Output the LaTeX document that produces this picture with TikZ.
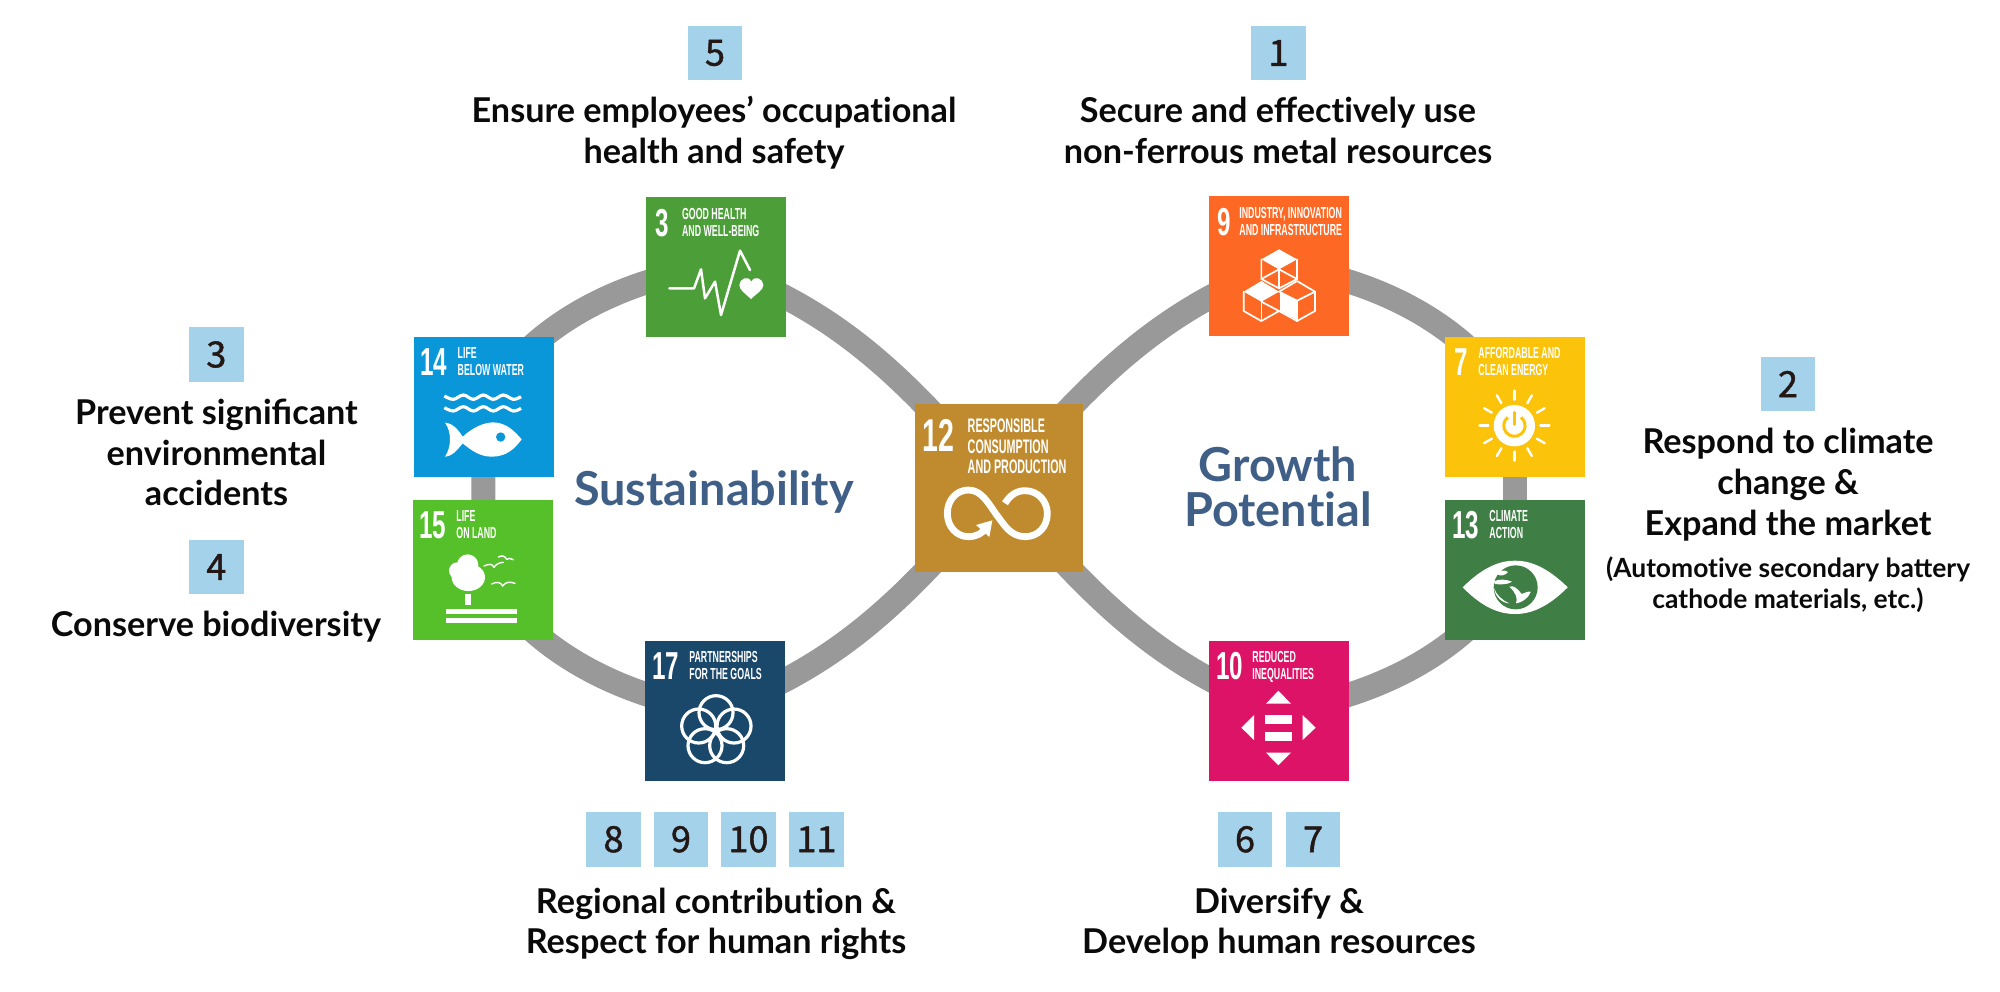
\documentclass[tikz,border=0pt]{standalone}
\usepackage{fontspec}
\usetikzlibrary{calc}
\setmainfont{Lato}
\newfontfamily\sdgfont[FakeStretch=0.62]{Liberation Sans Bold}
\newfontfamily\labfont[FakeStretch=0.55]{Liberation Sans Bold}
\newfontfamily\digitfont[FakeBold=1.2]{Noto Sans CJK JP}
\definecolor{gthree}{HTML}{4C9F38}
\definecolor{gfourteen}{HTML}{0A97D9}
\definecolor{gfifteen}{HTML}{56C02B}
\definecolor{gseventeen}{HTML}{19486A}
\definecolor{gtwelve}{HTML}{BF8B2E}
\definecolor{gnine}{HTML}{FD6925}
\definecolor{gseven}{HTML}{FCC30B}
\definecolor{gthirteen}{HTML}{3F7E44}
\definecolor{gten}{HTML}{DD1367}
\definecolor{badgeblue}{HTML}{A3D2EA}
\definecolor{digitink}{HTML}{231815}
\definecolor{titleblue}{HTML}{3F5F87}
\definecolor{loopgrey}{HTML}{999999}
\definecolor{inktext}{HTML}{0A0A0A}
\pgfdeclarelayer{back}
\pgfsetlayers{back,main}
\tikzset{
  sdgbox/.style={rectangle,draw=none,inner sep=0pt,minimum width=70pt,minimum height=70pt},
  badge/.style={rectangle,fill=badgeblue,inner sep=0pt,minimum width=27.3pt,minimum height=27.3pt,text=digitink,font=\digitfont\fontsize{18}{18}\selectfont},
  blk/.style={anchor=north,inner sep=0pt,align=center,text=inktext,font=\bfseries\fontsize{17.1}{20.35}\selectfont},
  blksmall/.style={anchor=north,inner sep=0pt,align=center,text=inktext,font=\bfseries\fontsize{13.2}{15.5}\selectfont},
  ttl/.style={anchor=north,inner sep=0pt,align=center,text=titleblue,font=\bfseries\fontsize{23.4}{22.5}\selectfont},
  num/.style={anchor=base west,inner sep=0pt,text=white,font=\sdgfont\fontsize{19.5}{19}\selectfont},
  numbig/.style={anchor=base west,inner sep=0pt,text=white,font=\sdgfont\fontsize{23}{23}\selectfont},
  lab/.style={anchor=north west,inner sep=0pt,align=left,text=white,font=\labfont\fontsize{8}{8.5}\selectfont},
  labbig/.style={anchor=north west,inner sep=0pt,align=left,text=white,font=\labfont\fontsize{9.8}{10.2}\selectfont},
  loopline/.style={draw=loopgrey,line width=12pt},
  crop/.style 2 args={shift={(#1,#2)},x=0.16667pt,y=-0.16667pt},
  icon/.style={fill=white,draw=none},
  iconline/.style={draw=white,fill=none,line cap=round,line join=round},
}
\newcommand{\tl}{\rule{0pt}{20pt}}
\newcommand{\ts}{\rule{0pt}{6pt}}
\newcommand{\tii}{t\kern0pt i}
\begin{document}
\begin{tikzpicture}[x=0.5pt,y=-0.5pt]
\useasboundingbox (0,0) rectangle (2000,991);
\begin{pgfonlayer}{back}
\fill[white] (0,0) rectangle (2000,991);
\end{pgfonlayer}

% SDG squares
\node[sdgbox,fill=gthree] (g3) at (715.5,267) {};
\node[sdgbox,fill=gfourteen] (g14) at (483.7,406.5) {};
\node[sdgbox,fill=gfifteen] (g15) at (483,569.5) {};
\node[sdgbox,fill=gseventeen] (g17) at (715,710.5) {};
\node[sdgbox,fill=gtwelve,minimum width=84.2pt,minimum height=84pt] (g12) at (998.8,488) {};
\node[sdgbox,fill=gnine] (g9) at (1279,266) {};
\node[sdgbox,fill=gseven] (g7) at (1515,406.5) {};
\node[sdgbox,fill=gthirteen] (g13) at (1515,569.5) {};
\node[sdgbox,fill=gten] (g10) at (1279,710.5) {};

% loop
\begin{pgfonlayer}{back}
\draw[loopline] (g12.center) .. controls (1090,380) and (1160,310) .. (g9.center);
\draw[loopline] (g9.center) .. controls (1370,278) and (1468,322) .. (g7.center);
\draw[loopline] (g7.center) -- (g13.center);
\draw[loopline] (g13.center) .. controls (1468,654) and (1370,698) .. (g10.center);
\draw[loopline] (g10.center) .. controls (1160,667) and (1090,597) .. (g12.center);
\draw[loopline] (g12.center) .. controls (908,597) and (838,667) .. (g17.center);
\draw[loopline] (g17.center) .. controls (628,698) and (530,654) .. (g15.center);
\draw[loopline] (g15.center) -- (g14.center);
\draw[loopline] (g14.center) .. controls (530,322) and (628,278) .. (g3.center);
\draw[loopline] (g3.center) .. controls (838,310) and (908,380) .. (g12.center);
\end{pgfonlayer}

% numbers and labels
\node[num] (n3) at (655,236.5) {3};
\node[lab] (l3) at (681.7,207.3) {\ts GOOD HEALTH\\AND WELL-BEING};
\node[num] (n14) at (420,375.5) {14};
\node[lab] (l14) at (457.3,346) {\ts LIFE\\BELOW WATER};
\node[num] (n15) at (419,538) {15};
\node[lab] (l15) at (456,509) {\ts LIFE\\ON LAND};
\node[num] (n17) at (652,679.5) {17};
\node[lab] (l17) at (689,650) {\ts PARTNERSHIPS\\FOR THE GOALS};
\node[numbig] (n12) at (922,451) {12};
\node[labbig] (l12) at (967.3,418.7) {\ts RESPONSIBLE\\CONSUMPTION\\AND PRODUCTION};
\node[num] (n9) at (1217,235.5) {9};
\node[lab] (l9) at (1239,205.7) {\ts INDUSTRY, INNOVATION\\AND INFRASTRUCTURE};
\node[num] (n7) at (1454,375.5) {7};
\node[lab] (l7) at (1478,346) {\ts AFFORDABLE AND\\CLEAN ENERGY};
\node[num] (n13) at (1452,538) {13};
\node[lab] (l13) at (1489,509) {\ts CLIMATE\\ACTION};
\node[num] (n10) at (1216,679.5) {10};
\node[lab] (l10) at (1252,650) {\ts REDUCED\\INEQUALITIES};

% icon SDG 3
\begin{scope}[crop={400}{180}]
\draw[iconline,line width=1.25pt] (808,325) -- (882,325) -- (903,268) -- (915,355) -- (945,305) -- (963,405) -- (1020,212) -- (1050,270);
\fill[icon] (1053,357) .. controls (1035,340) and (1018,330) .. (1018,315) .. controls (1018,296) and (1045,285) .. (1054,305) .. controls (1063,285) and (1090,296) .. (1090,315) .. controls (1090,330) and (1070,340) .. (1053,357) -- cycle;
% icon SDG 14
\foreach \yy in {0,35} {
\draw[white,line width=1.6pt] plot[smooth,tension=0.6] coordinates {(133,648+\yy) (160,658+\yy) (190,645+\yy) (220,658+\yy) (250,645+\yy) (280,658+\yy) (310,645+\yy) (340,658+\yy) (363,650+\yy)};
}
\fill[icon] (135,728) .. controls (160,730) and (175,750) .. (188,770) .. controls (215,745) and (250,727) .. (280,727) .. controls (320,728) and (345,755) .. (365,778) .. controls (345,805) and (320,830) .. (275,830) .. controls (240,830) and (215,812) .. (188,790) .. controls (175,805) and (160,828) .. (135,830) .. controls (155,800) and (155,755) .. (135,728) -- cycle;
\fill[gfourteen] (302,771) circle[radius=14];
\end{scope}

% icon SDG 15, 17
\begin{scope}[crop={400}{480}]
\fill[icon] (203,255) circle[radius=32];
\fill[icon] (172,272) circle[radius=25];
\fill[icon] (205,292) ellipse[x radius=50,y radius=41];
\fill[icon] (196,342) rectangle (212,375);
\fill[icon] (138,388) rectangle (350,402);
\fill[icon] (138,413) rectangle (350,429);
\draw[iconline,line width=0.7pt] (252,258) .. controls (268,250) and (278,252) .. (282,262) .. controls (288,252) and (298,248) .. (310,247);
\draw[iconline,line width=0.7pt] (295,231) .. controls (307,225) and (315,228) .. (320,238) .. controls (325,233) and (332,235) .. (340,239);
\draw[iconline,line width=0.7pt] (275,312) .. controls (290,304) and (302,306) .. (308,318) .. controls (315,306) and (330,304) .. (345,310);
\foreach \cx/\cy in {948/698,896/738,1002/738,915/797,980/797} {
\draw[white,line width=1.6pt] (\cx,\cy) circle[radius=51];
}
\end{scope}

% icon SDG 12
\begin{scope}[crop={900}{390}]
\draw[iconline,line cap=butt,line width=3.4pt] (315,340) .. controls (330,315) and (350,302) .. (375,302) .. controls (415,302) and (442,335) .. (442,370) .. controls (442,410) and (415,440) .. (375,440) .. controls (330,440) and (310,400) .. (290,375) .. controls (265,340) and (245,300) .. (205,300) .. controls (170,300) and (142,330) .. (142,370) .. controls (142,410) and (170,440) .. (205,440) .. controls (230,440) and (245,430) .. (258,415);
\fill[icon] (277,391) -- (228,405) -- (268,441) -- cycle;
\end{scope}

% icon SDG 9, 7
\begin{scope}[crop={1200}{180}]
\fill[icon] (237,208) -- (291,238) -- (237,268) -- (184,238) -- cycle;
\fill[icon] (184,303) -- (237,335) -- (184,365) -- (131,335) -- cycle;
\fill[icon] (240,335) -- (291,362) -- (291,420) -- (240,392) -- cycle;
\draw[iconline,line width=0.85pt] (184,238) -- (184,297) -- (237,325) -- (291,297) -- (291,238);
\draw[iconline,line width=0.85pt] (237,268) -- (237,325);
\draw[iconline,line width=0.85pt] (184,297) -- (237,268) -- (291,297);
\draw[iconline,line width=0.85pt] (131,335) -- (131,393) -- (184,423) -- (237,393) -- (291,423) -- (345,393) -- (345,335) -- (291,303) -- (237,335);
\draw[iconline,line width=0.85pt] (184,365) -- (184,423);
\draw[iconline,line width=0.85pt] (184,365) -- (237,393);
\draw[iconline,line width=0.85pt] (291,362) -- (345,335);
\draw[iconline,line width=0.85pt] (291,362) -- (291,423);
\draw[iconline,line width=0.85pt] (237,335) -- (291,362);
% sun
\fill[icon] (943,737) circle[radius=62];
\draw[gseven,line width=1.5pt] (923,712) arc[start angle=231,end angle=-51,radius=32];
\draw[white,line width=3pt] (943,690) -- (943,735);
\draw[gseven,line width=1.5pt,line cap=round] (943,697) -- (943,733);
\foreach \a in {0,30,...,330} {
\draw[iconline,line width=1.2pt] ($(943,737)+(\a:78)$) -- ($(943,737)+(\a:105)$);
}
\end{scope}

% icon SDG 13, 10
\begin{scope}[crop={1200}{480}]
\fill[icon] (788,322) .. controls (850,260) and (900,242) .. (945,242) .. controls (990,242) and (1040,260) .. (1103,322) .. controls (1040,385) and (990,402) .. (945,402) .. controls (900,402) and (850,385) .. (788,322) -- cycle;
\fill[gthirteen] (947,322) circle[radius=66];
\fill[icon] (198,671) -- (235,632) -- (273,671) -- cycle;
\fill[icon] (198,818) -- (273,818) -- (235,856) -- cycle;
\fill[icon] (162,705) -- (162,780) -- (124,743) -- cycle;
\fill[icon] (308,705) -- (308,780) -- (347,743) -- cycle;
\fill[icon] (195,705) rectangle (275,732);
\fill[icon] (195,756) rectangle (275,782);
\end{scope}
\begin{scope}[crop={1480}{550}]
\fill[icon] (42,94) .. controls (55,86) and (80,88) .. (96,95) .. controls (85,104) and (60,104) .. (44,102) -- cycle;
\fill[icon] (50,72) .. controls (58,60) and (72,58) .. (84,66) .. controls (76,76) and (62,80) .. (50,72) -- cycle;
\fill[icon] (88,110) .. controls (100,105) and (112,115) .. (125,132) .. controls (135,128) and (148,122) .. (152,126) .. controls (145,145) and (125,158) .. (108,160) .. controls (115,145) and (105,125) .. (88,110) -- cycle;
\fill[icon] (42,115) .. controls (50,135) and (65,150) .. (88,160) .. controls (68,160) and (46,142) .. (42,115) -- cycle;
\end{scope}

% titles
\node[ttl] (tsus) at (714,465) {\rule{0pt}{20pt}Sustainability};
\node[ttl] (tgro) at (1278,441) {\rule{0pt}{20pt}Growth\\Poten\tii al};

% badges and texts
\node[badge] (b5) at (715,53) {5};
\node[badge] (b1) at (1278.5,53) {1};
\node[blk] (t5) at (714,82) {\tl Ensure employees’ occupa\tii onal\\health and safety};
\node[blk] (t1) at (1278,82) {\tl Secure and effec\tii vely use\\non-ferrous metal resources};
\node[badge] (b3) at (216.3,354.5) {3};
\node[blk] (t3) at (216.5,384) {\tl Prevent significant\\environmental\\accidents};
\node[badge] (b4) at (216.3,567) {4};
\node[blk] (t4) at (216,596) {\tl Conserve biodiversity};
\node[badge] (b2) at (1788,384) {2};
\node[blk] (t2) at (1788,413.3) {\tl Respond to climate\\change \&\\Expand the market};
\node[blksmall] (t2b) at (1788,537) {\tl (Automo\tii ve secondary battery\\cathode materials, etc.)};
\node[badge] (b8) at (613.5,839.3) {8};
\node[badge] (b9) at (681,839.3) {9};
\node[badge] (b10) at (748.5,839.3) {10};
\node[badge] (b11) at (816.5,839.3) {11};
\node[badge] (b6) at (1245,839.3) {6};
\node[badge] (b7) at (1313,839.3) {7};
\node[blk] (t8) at (716,872.7) {\tl Regional contribu\tii on \&\\Respect for human rights};
\node[blk] (t6) at (1279,872.7) {\tl Diversify \&\\Develop human resources};
\end{tikzpicture}
\end{document}
